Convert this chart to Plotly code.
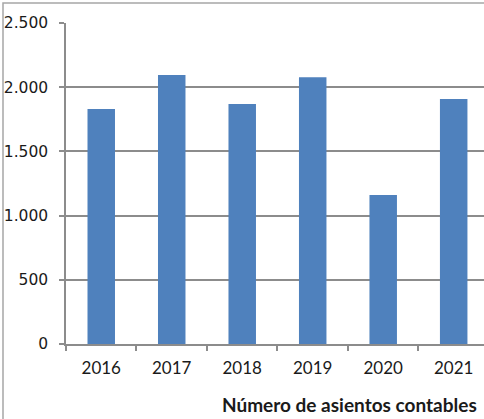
import plotly.graph_objects as go

years = ["2016", "2017", "2018", "2019", "2020", "2021"]
asientos = [1830, 2095, 1870, 2078, 1160, 1908]
y_ticks = [0, 500, 1000, 1500, 2000, 2500]
y_tick_labels = ["0", "500", "1.000", "1.500", "2.000", "2.500"]
title_text = "Número de asientos contables"

W, H = 484, 419
L, R, T, B = 66, 0, 23, 75
pw, ph = W - L - R, H - T - B

fig = go.Figure(go.Bar(
    x=years, y=asientos,
    marker=dict(color="#4F81BD", line=dict(width=0)),
    width=0.39,
    hoverinfo="skip",
))

grid_col = "#8c8c8c"
fig.update_layout(
    width=W, height=H,
    margin=dict(l=L, r=R, t=T, b=B),
    plot_bgcolor="white", paper_bgcolor="white",
    font=dict(family="Lato", size=15, color="#1a1a1a"),
    showlegend=False,
    xaxis=dict(
        type="category", range=[-0.5, 5.43],
        showline=True, linecolor=grid_col, linewidth=1.5,
        ticks="outside", ticklen=5, tickcolor=grid_col, tickwidth=1.5,
        tickson="boundaries", showgrid=False,
        tickfont=dict(family="Lato", size=17),
        ticklabelstandoff=8,
    ),
    yaxis=dict(
        range=[0, 2500], tickvals=y_ticks, ticktext=y_tick_labels,
        showline=True, linecolor=grid_col, linewidth=1.5,
        ticks="outside", ticklen=5, tickcolor=grid_col, tickwidth=1.5,
        showgrid=True, gridcolor=grid_col, gridwidth=1.5,
        zeroline=False, ticklabelstandoff=8,
        tickfont=dict(family="DejaVu Sans", size=15.5),
    ),
    annotations=[dict(
        text="<b>" + title_text + "</b>",
        xref="paper", yref="paper",
        x=(479 - L) / pw, y=-(404 - (T + ph)) / ph,
        xanchor="right", yanchor="middle", showarrow=False,
        font=dict(family="Lato", size=19, color="#1a1a1a"),
    )],
    shapes=[dict(
        type="rect", xref="paper", yref="paper",
        x0=(3 - L) / pw, x1=(W + 5 - L) / pw,
        y0=-(H + 5 - (T + ph)) / ph, y1=(T + ph - 3) / ph,
        line=dict(color="#a6a6a6", width=1.5), layer="below",
    )],
)

fig.write_html("out.html", config={"displayModeBar": False},
               post_script="document.body.style.margin='0';")
